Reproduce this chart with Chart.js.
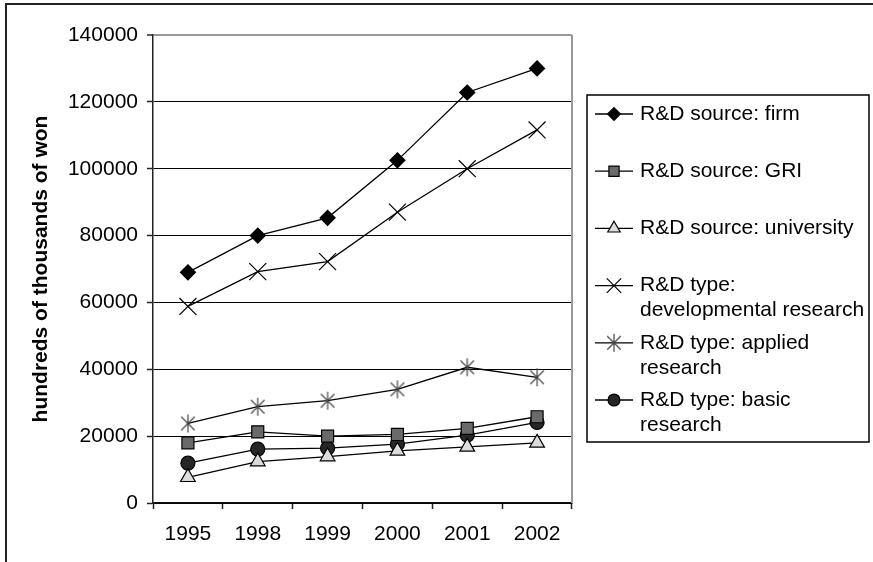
<!DOCTYPE html>
<html>
<head>
<meta charset="utf-8">
<script src="https://cdn.jsdelivr.net/npm/chart.js@4.4.1/dist/chart.umd.min.js"></script>
<style>
  html, body { margin: 0; padding: 0; background: #fff; }
  #wrap { width: 873px; height: 562px; position: relative; }
</style>
</head>
<body>
<div id="wrap"><canvas id="c" width="873" height="562"></canvas></div>
<script>
// R&D expenditure by source and by type, hundreds of thousands of won
const years = ['1995', '1998', '1999', '2000', '2001', '2002'];
const firm = [69000, 80000, 85300, 102500, 122800, 130000];
const gri = [18000, 21300, 20000, 20500, 22300, 25800];
const university = [7700, 12400, 13900, 15600, 16800, 18000];
const developmental = [58800, 69200, 72200, 87000, 100000, 111600];
const applied = [23800, 28800, 30600, 34000, 40600, 37600];
const basic = [11900, 16100, 16400, 17600, 20300, 24100];
const yTicks = [0, 20000, 40000, 60000, 80000, 100000, 120000, 140000];
const seriesNames = [
  ['R&D source: firm'],
  ['R&D source: GRI'],
  ['R&D source: university'],
  ['R&D type:', 'developmental research'],
  ['R&D type: applied', 'research'],
  ['R&D type: basic', 'research']
];
const yTitle = 'hundreds of thousands of won';

const FONT = '"Liberation Sans", Arial, Helvetica, sans-serif';

// six-armed asterisk marker (X plus a vertical stroke)
function makeAsterisk(r, color) {
  const c = document.createElement('canvas');
  const s = Math.ceil(r * 2 + 4);
  c.width = s; c.height = s;
  const g = c.getContext('2d');
  const m = s / 2;
  g.strokeStyle = color;
  g.lineWidth = 1.2;
  g.beginPath();
  const d = r * 0.75;
  g.moveTo(m - d, m - d); g.lineTo(m + d, m + d);
  g.moveTo(m + d, m - d); g.lineTo(m - d, m + d);
  g.moveTo(m, m - r); g.lineTo(m, m + r);
  g.stroke();
  return c;
}
const asterisk = makeAsterisk(9, '#444');

const datasets = [
  { label: seriesNames[0].join(' '), data: firm, pointStyle: 'rectRot', radius: 7.5, pointBackgroundColor: '#000', pointBorderColor: '#000' },
  { label: seriesNames[1].join(' '), data: gri, pointStyle: 'rect', radius: 8.5, pointBackgroundColor: '#6a6a6a', pointBorderColor: '#000' },
  { label: seriesNames[2].join(' '), data: university, pointStyle: 'triangle', radius: 8.5, pointBackgroundColor: '#dcdcdc', pointBorderColor: '#000' },
  { label: seriesNames[3].join(' '), data: developmental, pointStyle: 'crossRot', radius: 12, pointBackgroundColor: '#000', pointBorderColor: '#000' },
  { label: seriesNames[4].join(' '), data: applied, pointStyle: asterisk, radius: 9, pointBackgroundColor: '#444', pointBorderColor: '#444' },
  { label: seriesNames[5].join(' '), data: basic, pointStyle: 'circle', radius: 7, pointBackgroundColor: '#262626', pointBorderColor: '#000' }
].map(d => Object.assign({
  borderColor: '#000',
  borderWidth: 1.3,
  pointBorderWidth: 1.2,
  pointRadius: d.radius,
  tension: 0,
  fill: false
}, d));

// outer frame of the chart area
const framePlugin = {
  id: 'frame',
  beforeDraw(chart) {
    const ctx = chart.ctx;
    ctx.save();
    ctx.fillStyle = '#fff';
    ctx.fillRect(0, 0, chart.width, chart.height);
    ctx.strokeStyle = '#222';
    ctx.lineWidth = 2;
    ctx.strokeRect(6, 4, chart.width + 20, chart.height + 20);
    ctx.restore();
  },
  beforeDatasetsDraw(chart) {
    const { ctx, chartArea: a } = chart;
    ctx.save();
    ctx.strokeStyle = '#999';
    ctx.lineWidth = 2;
    ctx.beginPath();
    ctx.moveTo(a.right, a.top);
    ctx.lineTo(a.right, a.bottom);
    ctx.stroke();
    ctx.restore();
  }
};

// boxed legend on the right with wrapped entries
const boxLegend = {
  id: 'boxLegend',
  afterDraw(chart, args, opts) {
    const ctx = chart.ctx;
    ctx.save();
    ctx.strokeStyle = '#000';
    ctx.lineWidth = 1.5;
    ctx.strokeRect(opts.left, opts.top, opts.width, opts.height);
    ctx.font = opts.fontSize + 'px ' + FONT;
    ctx.textBaseline = 'middle';
    ctx.textAlign = 'left';
    chart.data.datasets.forEach((ds, i) => {
      const y = opts.firstY + i * opts.pitch;
      const x0 = opts.left + opts.lineStart;
      const x1 = opts.left + opts.lineEnd;
      ctx.strokeStyle = '#000';
      ctx.lineWidth = 1.3;
      ctx.beginPath();
      ctx.moveTo(x0, y);
      ctx.lineTo(x1, y);
      ctx.stroke();
      ctx.fillStyle = ds.pointBackgroundColor;
      ctx.strokeStyle = ds.pointBorderColor;
      ctx.lineWidth = ds.pointBorderWidth;
      Chart.helpers.drawPoint(ctx, {
        pointStyle: ds.pointStyle,
        radius: ds.pointRadius * 0.85,
        rotation: 0,
        borderWidth: ds.pointBorderWidth
      }, (x0 + x1) / 2, y);
      ctx.fillStyle = '#000';
      seriesNames[i].forEach((line, k) => {
        ctx.fillText(line, opts.left + opts.textStart, y + k * opts.lineGap);
      });
    });
    ctx.restore();
  }
};

new Chart(document.getElementById('c'), {
  type: 'line',
  data: { labels: years, datasets },
  plugins: [framePlugin, boxLegend],
  options: {
    responsive: false,
    animation: false,
    devicePixelRatio: 1,
    layout: { padding: { left: 0, right: 301, top: 35, bottom: 0 } },
    plugins: {
      legend: { display: false },
      tooltip: { enabled: false },
      boxLegend: {
        left: 587, top: 95, width: 282, height: 347,
        firstY: 114, pitch: 57.2, lineGap: 25,
        lineStart: 8, lineEnd: 46, textStart: 53, fontSize: 21
      }
    },
    scales: {
      x: {
        offset: true,
        grid: { offset: true, drawOnChartArea: false, drawTicks: true, tickLength: 6, tickColor: '#222', tickWidth: 1.5 },
        border: { color: '#111', width: 1.5 },
        ticks: { color: '#000', font: { family: FONT, size: 21 }, padding: 13, maxRotation: 0 },
        afterFit(s) { s.height = 59; }
      },
      y: {
        min: 0, max: 140000,
        afterBuildTicks(s) { s.ticks = yTicks.map(v => ({ value: v })); },
        ticks: { color: '#000', font: { family: FONT, size: 21 }, padding: 9, callback: v => String(v) },
        grid: {
          color: c => (c.tick && c.tick.value === 140000) ? '#999' : '#000',
          lineWidth: c => (c.tick && c.tick.value === 140000) ? 2 : 1,
          tickLength: 6, tickColor: '#222', tickWidth: 1.5
        },
        border: { color: '#222', width: 1.5 },
        title: {
          display: true, text: yTitle, color: '#000',
          font: { family: FONT, size: 21, weight: 'bold' },
          padding: { top: 29, bottom: 0 }
        },
        afterFit(s) { s.width = 153; }
      }
    }
  }
});
</script>
</body>
</html>
